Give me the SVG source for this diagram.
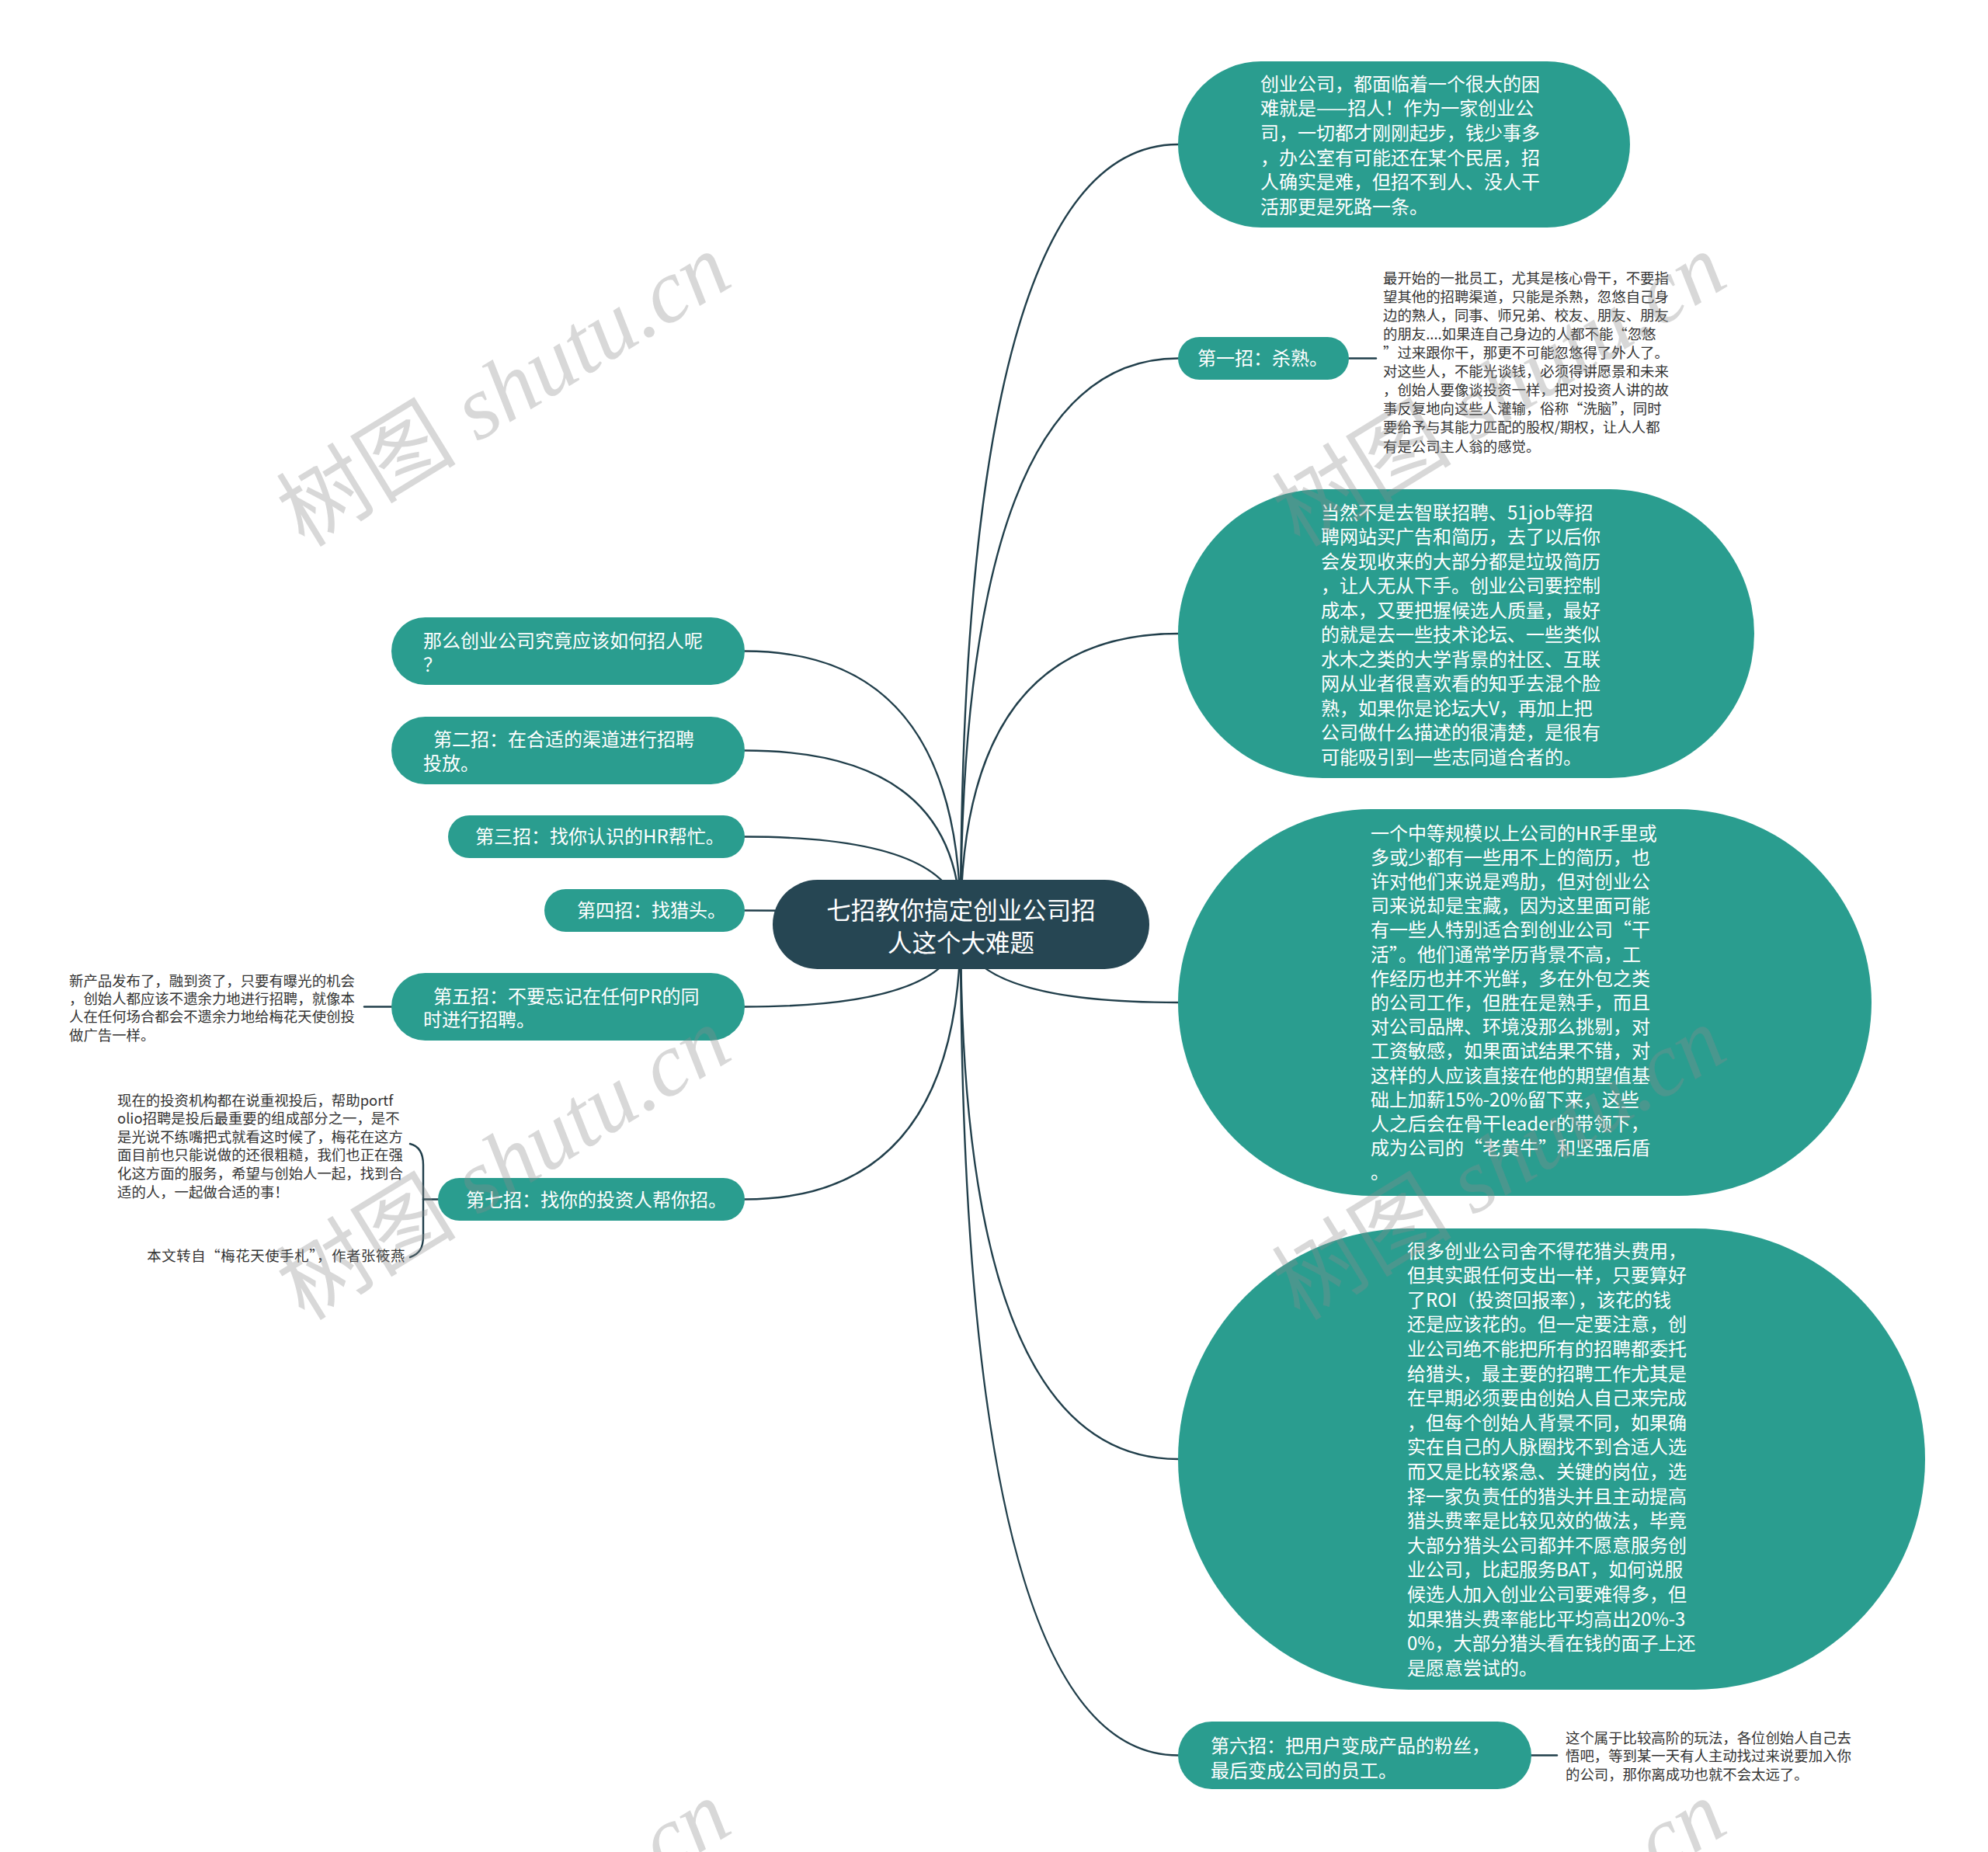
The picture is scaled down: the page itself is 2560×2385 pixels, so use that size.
<svg xmlns="http://www.w3.org/2000/svg" width="2560" height="2385" viewBox="0 0 2560 2385">
<defs>
<style>
.bg{fill:#ffffff}
.edge{fill:none;stroke:#213f4b;stroke-width:2.4;stroke-linecap:round}
.node{fill:#2a9d8f}
.root{fill:#264653}
.t{font-family:"Noto Sans CJK SC","Noto Sans",sans-serif;fill:#ffffff;font-size:24px}
.rt{font-family:"Noto Sans CJK SC","Noto Sans",sans-serif;fill:#ffffff;font-size:31.5px}
.note{font-family:"Noto Sans CJK SC","Noto Sans",sans-serif;fill:#333333;font-size:18.4px}
.wm{font-family:"Liberation Serif","Noto Sans CJK SC",serif;font-size:116px;fill:#8c8c8c;opacity:0.33}
</style>
</defs>
<rect class="bg" x="0" y="0" width="2560" height="2385"/>
<g id="connectors">
<path class="edge" d="M1237,1191 Q1237,186 1517,186"/>
<path class="edge" d="M1237,1191 Q1237,461.5 1517,461.5"/>
<path class="edge" d="M1237,1191 Q1237,816 1517,816"/>
<path class="edge" d="M1237,1191 Q1237,1291 1517,1291"/>
<path class="edge" d="M1237,1191 Q1237,1879 1517,1879"/>
<path class="edge" d="M1237,1191 Q1237,2260.5 1517,2260.5"/>
<path class="edge" d="M1237,1191 Q1237,838.5 959,838.5"/>
<path class="edge" d="M1237,1191 Q1237,966.5 959,966.5"/>
<path class="edge" d="M1237,1191 Q1237,1077.5 959,1077.5"/>
<path class="edge" d="M1237,1191 Q1237,1172.5 959,1172.5"/>
<path class="edge" d="M1237,1191 Q1237,1296.5 959,1296.5"/>
<path class="edge" d="M1237,1191 Q1237,1544.5 959,1544.5"/>
<path class="edge" d="M1737,461.5 H1772"/>
<path class="edge" d="M1972,2260.5 H2005"/>
<path class="edge" d="M504,1296.5 H469"/>
<path class="edge" d="M564,1544.5 H545"/>
<path class="edge" d="M528,1473 C540,1476 545,1485 545,1500 L545,1592 C545,1607 540,1615 528,1619"/>
</g>
<g id="root">
<rect class="root" x="995" y="1133" width="485" height="115" rx="57.5"/>
<text class="rt" text-anchor="middle"><tspan x="1237.5" y="1184.3">七招教你搞定创业公司招</tspan><tspan x="1237.5" y="1226.3">人这个大难题</tspan></text>
</g>
<g id="r1">
<rect class="node" x="1517" y="79" width="582" height="214" rx="107"/>
<text class="t"><tspan x="1623" y="116.6">创业公司，都面临着一个很大的困</tspan><tspan x="1623" dy="31.7">难就是——招人！作为一家创业公</tspan><tspan x="1623" dy="31.7">司，一切都才刚刚起步，钱少事多</tspan><tspan x="1623" dy="31.7">，办公室有可能还在某个民居，招</tspan><tspan x="1623" dy="31.7">人确实是难，但招不到人、没人干</tspan><tspan x="1623" dy="31.7">活那更是死路一条。</tspan></text>
</g>
<g id="r2">
<rect class="node" x="1517" y="434" width="220" height="55" rx="27.5"/>
<text class="t" x="1542" y="470">第一招：杀熟。</text>
</g>
<g id="r2-note">
<text class="note"><tspan x="1781" y="364.6">最开始的一批员工，尤其是核心骨干，不要指</tspan><tspan x="1781" dy="24.1">望其他的招聘渠道，只能是杀熟，忽悠自己身</tspan><tspan x="1781" dy="24.1">边的熟人，同事、师兄弟、校友、朋友、朋友</tspan><tspan x="1781" dy="24.1">的朋友....如果连自己身边的人都不能“忽悠</tspan><tspan x="1781" dy="24.1">”过来跟你干，那更不可能忽悠得了外人了。</tspan><tspan x="1781" dy="24.1">对这些人，不能光谈钱，必须得讲愿景和未来</tspan><tspan x="1781" dy="24.1">，创始人要像谈投资一样，把对投资人讲的故</tspan><tspan x="1781" dy="24.1">事反复地向这些人灌输，俗称“洗脑”，同时</tspan><tspan x="1781" dy="24.1">要给予与其能力匹配的股权/期权，让人人都</tspan><tspan x="1781" dy="24.1">有是公司主人翁的感觉。</tspan></text>
</g>
<g id="r3">
<rect class="node" x="1517" y="630" width="742" height="372" rx="186"/>
<text class="t"><tspan x="1701" y="668.6">当然不是去智联招聘、51job等招</tspan><tspan x="1701" dy="31.5">聘网站买广告和简历，去了以后你</tspan><tspan x="1701" dy="31.5">会发现收来的大部分都是垃圾简历</tspan><tspan x="1701" dy="31.5">，让人无从下手。创业公司要控制</tspan><tspan x="1701" dy="31.5">成本，又要把握候选人质量，最好</tspan><tspan x="1701" dy="31.5">的就是去一些技术论坛、一些类似</tspan><tspan x="1701" dy="31.5">水木之类的大学背景的社区、互联</tspan><tspan x="1701" dy="31.5">网从业者很喜欢看的知乎去混个脸</tspan><tspan x="1701" dy="31.5">熟，如果你是论坛大V，再加上把</tspan><tspan x="1701" dy="31.5">公司做什么描述的很清楚，是很有</tspan><tspan x="1701" dy="31.5">可能吸引到一些志同道合者的。</tspan></text>
</g>
<g id="r4">
<rect class="node" x="1517" y="1042" width="893" height="498" rx="249"/>
<text class="t"><tspan x="1765" y="1081.6">一个中等规模以上公司的HR手里或</tspan><tspan x="1765" dy="31.2">多或少都有一些用不上的简历，也</tspan><tspan x="1765" dy="31.2">许对他们来说是鸡肋，但对创业公</tspan><tspan x="1765" dy="31.2">司来说却是宝藏，因为这里面可能</tspan><tspan x="1765" dy="31.2">有一些人特别适合到创业公司“干</tspan><tspan x="1765" dy="31.2">活”。他们通常学历背景不高，工</tspan><tspan x="1765" dy="31.2">作经历也并不光鲜，多在外包之类</tspan><tspan x="1765" dy="31.2">的公司工作，但胜在是熟手，而且</tspan><tspan x="1765" dy="31.2">对公司品牌、环境没那么挑剔，对</tspan><tspan x="1765" dy="31.2">工资敏感，如果面试结果不错，对</tspan><tspan x="1765" dy="31.2">这样的人应该直接在他的期望值基</tspan><tspan x="1765" dy="31.2">础上加薪15%-20%留下来，这些</tspan><tspan x="1765" dy="31.2">人之后会在骨干leader的带领下，</tspan><tspan x="1765" dy="31.2">成为公司的“老黄牛”和坚强后盾</tspan><tspan x="1765" dy="31.2">。</tspan></text>
</g>
<g id="r5">
<rect class="node" x="1517" y="1582" width="962" height="594" rx="297"/>
<text class="t"><tspan x="1812" y="1619.6">很多创业公司舍不得花猎头费用，</tspan><tspan x="1812" dy="31.6">但其实跟任何支出一样，只要算好</tspan><tspan x="1812" dy="31.6">了ROI（投资回报率），该花的钱</tspan><tspan x="1812" dy="31.6">还是应该花的。但一定要注意，创</tspan><tspan x="1812" dy="31.6">业公司绝不能把所有的招聘都委托</tspan><tspan x="1812" dy="31.6">给猎头，最主要的招聘工作尤其是</tspan><tspan x="1812" dy="31.6">在早期必须要由创始人自己来完成</tspan><tspan x="1812" dy="31.6">，但每个创始人背景不同，如果确</tspan><tspan x="1812" dy="31.6">实在自己的人脉圈找不到合适人选</tspan><tspan x="1812" dy="31.6">而又是比较紧急、关键的岗位，选</tspan><tspan x="1812" dy="31.6">择一家负责任的猎头并且主动提高</tspan><tspan x="1812" dy="31.6">猎头费率是比较见效的做法，毕竟</tspan><tspan x="1812" dy="31.6">大部分猎头公司都并不愿意服务创</tspan><tspan x="1812" dy="31.6">业公司，比起服务BAT，如何说服</tspan><tspan x="1812" dy="31.6">候选人加入创业公司要难得多，但</tspan><tspan x="1812" dy="31.6">如果猎头费率能比平均高出20%-3</tspan><tspan x="1812" dy="31.6">0%，大部分猎头看在钱的面子上还</tspan><tspan x="1812" dy="31.6">是愿意尝试的。</tspan></text>
</g>
<g id="r6">
<rect class="node" x="1517" y="2217" width="455" height="87" rx="43.5"/>
<text class="t"><tspan x="1559" y="2256.6">第六招：把用户变成产品的粉丝，</tspan><tspan x="1559" dy="32">最后变成公司的员工。</tspan></text>
</g>
<g id="r6-note">
<text class="note"><tspan x="2016" y="2244.6">这个属于比较高阶的玩法，各位创始人自己去</tspan><tspan x="2016" dy="23.5">悟吧，等到某一天有人主动找过来说要加入你</tspan><tspan x="2016" dy="23.5">的公司，那你离成功也就不会太远了。</tspan></text>
</g>
<g id="l1">
<rect class="node" x="504" y="795" width="455" height="87" rx="43.5"/>
<text class="t"><tspan x="545" y="833.6">那么创业公司究竟应该如何招人呢</tspan><tspan x="545" dy="31">？</tspan></text>
</g>
<g id="l2">
<rect class="node" x="504" y="923" width="455" height="87" rx="43.5"/>
<text class="t"><tspan x="558" y="960.6">第二招：在合适的渠道进行招聘</tspan><tspan x="545" dy="31">投放。</tspan></text>
</g>
<g id="l3">
<rect class="node" x="577" y="1050" width="382" height="55" rx="27.5"/>
<text class="t" x="612" y="1085.6">第三招：找你认识的HR帮忙。</text>
</g>
<g id="l4">
<rect class="node" x="701" y="1145" width="258" height="55" rx="27.5"/>
<text class="t" x="743" y="1180.6">第四招：找猎头。</text>
</g>
<g id="l5">
<rect class="node" x="504" y="1253" width="455" height="87" rx="43.5"/>
<text class="t"><tspan x="558" y="1291.6">第五招：不要忘记在任何PR的同</tspan><tspan x="545" dy="30">时进行招聘。</tspan></text>
</g>
<g id="l5-note">
<text class="note"><tspan x="89" y="1269.6">新产品发布了，融到资了，只要有曝光的机会</tspan><tspan x="89" dy="23.4">，创始人都应该不遗余力地进行招聘，就像本</tspan><tspan x="89" dy="23.4">人在任何场合都会不遗余力地给梅花天使创投</tspan><tspan x="89" dy="23.4">做广告一样。</tspan></text>
</g>
<g id="l7">
<rect class="node" x="564" y="1517" width="395" height="55" rx="27.5"/>
<text class="t" x="600" y="1553.6">第七招：找你的投资人帮你招。</text>
</g>
<g id="l7-note1">
<text class="note"><tspan x="151" y="1423.6">现在的投资机构都在说重视投后，帮助portf</tspan><tspan x="151" dy="23.6">olio招聘是投后最重要的组成部分之一，是不</tspan><tspan x="151" dy="23.6">是光说不练嘴把式就看这时候了，梅花在这方</tspan><tspan x="151" dy="23.6">面目前也只能说做的还很粗糙，我们也正在强</tspan><tspan x="151" dy="23.6">化这方面的服务，希望与创始人一起，找到合</tspan><tspan x="151" dy="23.6">适的人，一起做合适的事！</tspan></text>
</g>
<g id="l7-note2">
<text class="note" x="522" y="1623.6" text-anchor="end" letter-spacing="0.6">本文转自“梅花天使手札”，作者张筱燕</text>
</g>
<g id="watermarks">
<text class="wm" transform="translate(392,706) rotate(-31.5)">树图 <tspan font-style="italic">shutu.cn</tspan></text>
<text class="wm" transform="translate(1674,706) rotate(-31.5)">树图 <tspan font-style="italic">shutu.cn</tspan></text>
<text class="wm" transform="translate(392,1702) rotate(-31.5)">树图 <tspan font-style="italic">shutu.cn</tspan></text>
<text class="wm" transform="translate(1674,1702) rotate(-31.5)">树图 <tspan font-style="italic">shutu.cn</tspan></text>
<text class="wm" transform="translate(392,2698) rotate(-31.5)">树图 <tspan font-style="italic">shutu.cn</tspan></text>
<text class="wm" transform="translate(1674,2698) rotate(-31.5)">树图 <tspan font-style="italic">shutu.cn</tspan></text>
</g>
</svg>
